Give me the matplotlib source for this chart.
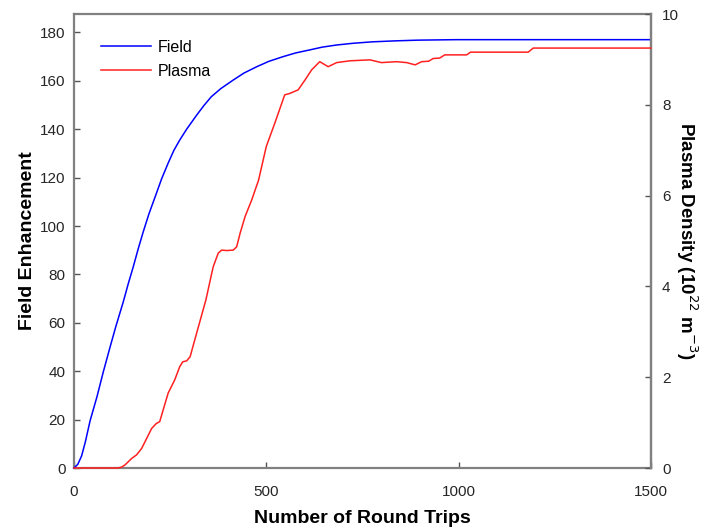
import numpy as np
import matplotlib.pyplot as plt

plt.rcParams['font.family'] = ['Liberation Sans', 'DejaVu Sans']

# Field enhancement (left axis)
field_x = [0, 10, 20, 30, 42, 60, 76, 94, 109, 128, 141, 154, 167, 180, 195, 211, 228, 245,
           260, 275, 293, 319, 338, 357, 382, 414, 442, 475, 506, 544, 576, 614, 645, 683,
           725, 775, 834, 894, 993, 1500]
field_y = [0, 1.5, 5, 11, 19.5, 29.5, 39.5, 50, 58.5, 68.5, 76, 83, 90.5, 97.5, 105, 112, 119.5, 126,
           131.3, 135.5, 140, 145.8, 149.8, 153.4, 156.8, 160.3, 163.2, 165.8, 168, 170, 171.5, 172.8, 173.9, 174.8,
           175.5, 176.1, 176.5, 176.8, 177, 177]

# Plasma density (right axis, 1e22 m^-3)
plasma_x = [0, 114, 124, 133, 150, 163, 176, 189, 202, 214, 223, 232, 245, 262, 275,
            283, 293, 302, 319, 343, 362, 375, 384, 397, 414, 423, 432, 445, 462, 480,
            500, 522, 548, 561, 583, 601, 618, 639, 661, 683, 718, 770, 799, 839, 865,
            887, 904, 922, 934, 951, 964, 1021, 1031, 1181, 1194, 1500]
plasma_y = [0, 0, 0.02, 0.07, 0.21, 0.29, 0.43, 0.65, 0.87, 0.98, 1.02, 1.28, 1.65, 1.94, 2.23,
            2.34, 2.36, 2.45, 2.97, 3.70, 4.43, 4.73, 4.80, 4.79, 4.80, 4.87, 5.17, 5.54, 5.90, 6.34,
            7.08, 7.59, 8.22, 8.25, 8.33, 8.55, 8.77, 8.95, 8.84, 8.93, 8.97, 8.99, 8.93, 8.95, 8.93,
            8.88, 8.95, 8.96, 9.02, 9.03, 9.10, 9.10, 9.16, 9.16, 9.25, 9.25]

fig = plt.figure(figsize=(7.04, 5.29), dpi=100)
ax1 = fig.add_axes([0.105, 0.1153, 0.8196, 0.8582])
ax2 = ax1.twinx()

l1, = ax1.plot(field_x, field_y, color='#0000ff', lw=1.1, label='Field', zorder=3, clip_on=False)
l2, = ax2.plot(plasma_x, plasma_y, color='#ff2020', lw=1.1, label='Plasma', zorder=3, clip_on=False)

ax1.set_xlim(0, 1500)
ax1.set_ylim(0, 187.6)
ax2.set_ylim(0, 10)
ax1.set_xticks([0, 500, 1000, 1500])
ax1.set_yticks(range(0, 181, 20))
ax2.set_yticks(range(0, 11, 2))

gray = '#808080'
for ax in (ax1, ax2):
    for s in ax.spines.values():
        s.set_color(gray)
        s.set_linewidth(1.6)
    ax.tick_params(direction='in', length=4, width=1, color='#555555',
                   labelsize=11, labelcolor='#262626')
for side in ('left', 'bottom', 'top'):
    ax2.spines[side].set_visible(False)
ax1.tick_params(axis='x', pad=12)
ax1.tick_params(axis='y', pad=6)
ax2.tick_params(axis='y', pad=8)

ax1.set_xlabel('Number of Round Trips', fontsize=14, fontweight='bold', labelpad=8)
ax1.set_ylabel('Field Enhancement', fontsize=14, fontweight='bold', labelpad=3)
ax2.set_ylabel('Plasma Density (10$^{22}$ m$^{-3}$)', fontsize=13.5, fontweight='bold',
               rotation=-90, labelpad=15)

ax1.legend(handles=[l1, l2], loc='upper left', bbox_to_anchor=(0.022, 0.975), frameon=False,
           fontsize=11.5, handlelength=3.1, labelspacing=0.55, handletextpad=0.45)

fig.savefig('out.png', dpi=100)
